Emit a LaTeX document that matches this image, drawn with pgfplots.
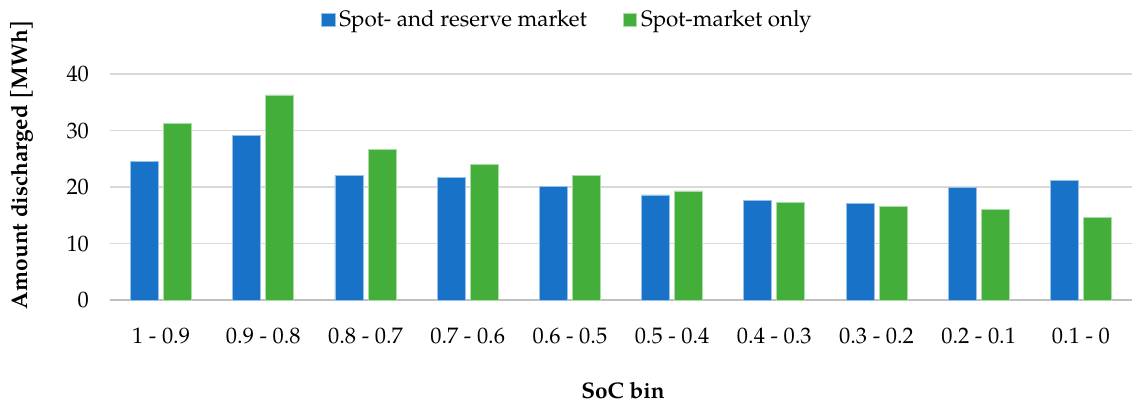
\documentclass[border=0pt]{standalone}
\usepackage{fontspec}
\setmainfont{TeX Gyre Pagella}
\usepackage{pgfplots}
\pgfplotsset{compat=1.18}
\definecolor{cblue}{HTML}{1873C8}
\definecolor{cgreen}{HTML}{44AE3A}
\definecolor{gridc}{HTML}{D9D9D9}
\definecolor{axisc}{HTML}{BFBFBF}
\begin{document}
\begin{tikzpicture}
\begin{axis}[
  at={(0pt,0pt)}, anchor=south west,
  scale only axis, width=511pt, height=113pt,
  ymin=0, ymax=40, ytick={0,10,20,30,40},
  xmin=-0.5, xmax=9.5, xtick={0,...,9},
  xticklabels={1 - 0.9, 0.9 - 0.8, 0.8 - 0.7, 0.7 - 0.6, 0.6 - 0.5, 0.5 - 0.4, 0.4 - 0.3, 0.3 - 0.2, 0.2 - 0.1, 0.1 - 0},
  /pgf/number format/assume math mode=true,
  axis x line*=bottom, axis y line*=left,
  x axis line style={-, draw=axisc, line width=1.2pt},
  y axis line style={draw=none},
  major tick length=0pt,
  ymajorgrids, grid style={draw=gridc, line width=0.9pt},
  tick label style={font=\fontsize{11.2}{13}\selectfont},
  xticklabel style={anchor=center, yshift=-18pt},
  yticklabel style={anchor=east, xshift=-7pt},
  ylabel={\textbf{Amount discharged [MWh]}},
  ylabel style={at={(axis description cs:-0.0861,0.6)}, anchor=center, font=\fontsize{11.3}{13}\selectfont},
  xlabel={\textbf{SoC bin}},
  xlabel style={at={(axis description cs:0.502,-0.4027)}, anchor=center, font=\fontsize{11.3}{13}\selectfont},
  ybar, bar width=14pt,
  legend style={draw=none, at={(axis description cs:0.2006,1.239)}, anchor=west,
    legend columns=2, font=\fontsize{11.2}{13}\selectfont,
    /tikz/every even column/.append style={column sep=16pt}},
  legend image code/.code={\fill[#1] (0pt,-3.3pt) rectangle (6.6pt,3.3pt);},
]
\addplot[bar shift=-8.25pt, fill=cblue, draw=cblue!45!white, line width=0.4pt] coordinates {
  (0,24.5) (1,29.2) (2,22.0) (3,21.7) (4,20.1) (5,18.6) (6,17.7) (7,17.1) (8,19.9) (9,21.1)};
\addlegendentry{Spot- and reserve market}
\addplot[bar shift=8.25pt, fill=cgreen, draw=cgreen!45!white, line width=0.4pt] coordinates {
  (0,31.3) (1,36.3) (2,26.7) (3,24.0) (4,22.1) (5,19.3) (6,17.3) (7,16.5) (8,16.1) (9,14.6)};
\addlegendentry{Spot-market only}
\end{axis}
\pgfresetboundingbox
\path[use as bounding box] (-55pt,-51.5pt) rectangle (511pt,150pt);
\end{tikzpicture}
\end{document}
